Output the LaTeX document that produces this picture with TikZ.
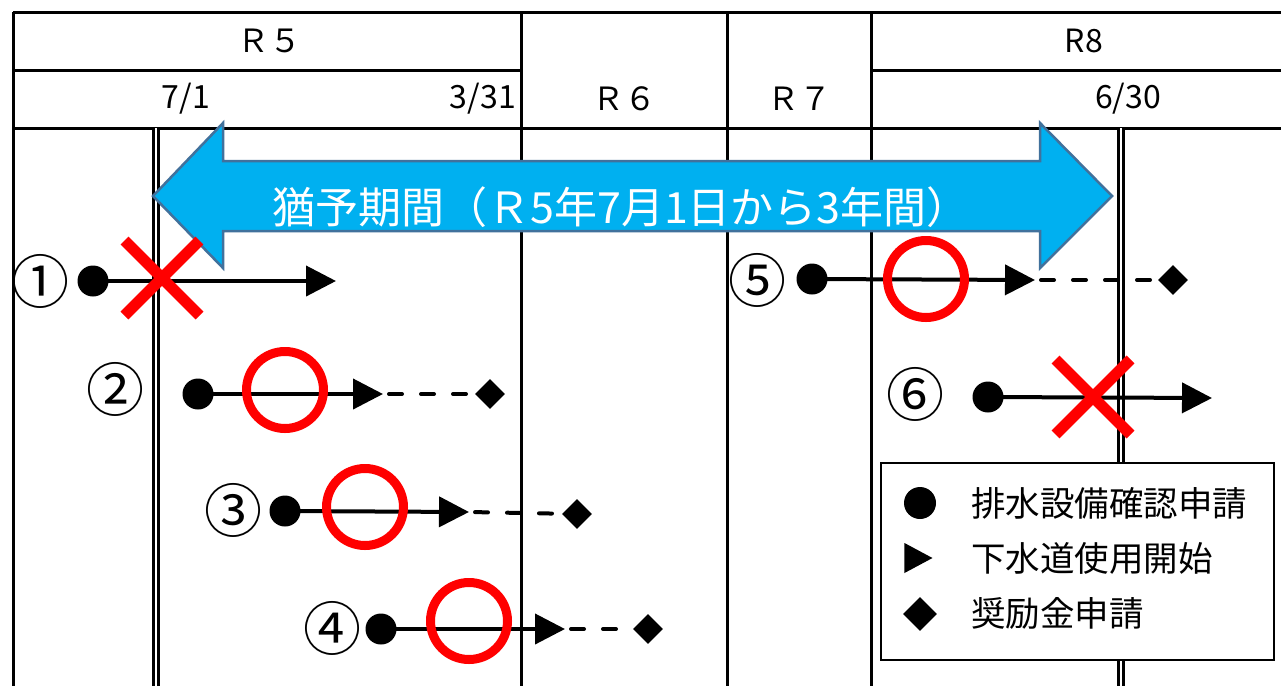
\documentclass[tikz,border=0pt]{standalone}
\usepackage{fontspec}
\setmainfont{Noto Sans CJK JP}
\usetikzlibrary{arrows.meta,shapes.geometric,shapes.misc}
\definecolor{arrowfill}{HTML}{00B0F0}
\definecolor{arrowline}{HTML}{41719C}
\begin{document}
\begin{tikzpicture}[x=1pt,y=-1pt,
  tbl/.style={line width=3pt},
  dbl/.style={line width=2.3pt, double distance=2.6pt},
  hd/.style={font=\fontsize{32}{34}\selectfont, inner sep=0pt},
  num/.style={font=\fontsize{58}{60}\selectfont, inner sep=0pt},
  dotn/.style={circle, fill=black, minimum size=31pt, inner sep=0pt},
  dian/.style={diamond, fill=black, minimum size=30pt, inner sep=0pt},
  tline/.style={line width=4pt, -{Triangle[length=30pt,width=30pt]}},
  dline/.style={line width=4pt, dash pattern=on 13pt off 19pt, line cap=round, shorten <=6pt},
  okmark/.style={circle, draw=red, line width=9pt, minimum size=77pt, inner sep=0pt},
  ngmark/.style={cross out, draw=red, line width=11pt, minimum size=64pt, inner sep=0pt},
  leg/.style={font=\fontsize{34.5}{36}\selectfont, anchor=west, inner sep=0pt},
]
\useasboundingbox (0,0) rectangle (1281,686);
\fill[white] (0,0) rectangle (1281,686);
% table
\draw[tbl] (13,12) -- (1281,12);
\draw[tbl] (13,70) -- (521,70);
\draw[tbl] (871,70) -- (1281,70);
\draw[tbl] (13,128) -- (1281,128);
\draw[tbl] (13,12) -- (13,686);
\draw[tbl] (521,12) -- (521,686);
\draw[tbl] (727,12) -- (727,686);
\draw[tbl] (871,12) -- (871,686);
\draw[dbl] (156,128) -- (156,686);
\draw[dbl] (1121,128) -- (1121,686);
% header texts
\node[hd] (hR5) at (269,41) {Ｒ５};
\node[hd] (h71) at (186,99) {7/1};
\node[hd, anchor=east] (h331) at (516,99) {3/31};
\node[hd] (hR6) at (624,99) {Ｒ６};
\node[hd] (hR7) at (799,99) {Ｒ７};
\node[hd] (hR8) at (1084,41) {R8};
\node[hd] (h630) at (1128,99) {6/30};
% grace period arrow
\draw[fill=arrowfill, draw=arrowline, line width=2.5pt, line join=miter]
  (153,196) -- (223,123) -- (223,161) -- (1040,161) -- (1040,123) -- (1112,196)
  -- (1040,268) -- (1040,231) -- (223,231) -- (223,268) -- cycle;
\node[text=white, font=\fontsize{43}{45}\selectfont, inner sep=0pt] (gp) at (621,207) {猶予期間（Ｒ5年7月1日から3年間）};
% case 1
\node[num] (n1) at (41,281) {①};
\node[dotn] (d1) at (93,281) {};
\coordinate (t1) at (336,281);
\draw[tline] (d1.center) -- (t1);
\node[ngmark] (x1) at (162,278) {};
% case 2
\node[num] (n2) at (115,389) {②};
\node[dotn] (d2) at (198,394) {};
\coordinate (t2) at (383,394);
\node[dian] (g2) at (490,394) {};
\draw[tline] (d2.center) -- (t2);
\draw[dline] (t2) -- (g2);
\node[okmark] (o2) at (285,390) {};
% case 3
\node[num] (n3) at (233,510) {③};
\node[dotn] (d3) at (285,511) {};
\coordinate (t3) at (469,512);
\node[dian] (g3) at (577,514) {};
\draw[tline] (d3.center) -- (t3);
\draw[dline] (t3) -- (g3);
\node[okmark] (o3) at (365,507) {};
% case 4
\node[num] (n4) at (332,628) {④};
\node[dotn] (d4) at (381,629) {};
\coordinate (t4) at (565,629);
\node[dian] (g4) at (648,629) {};
\draw[tline] (d4.center) -- (t4);
\draw[dline] (t4) -- (g4);
\node[okmark] (o4) at (469,621) {};
% case 5
\node[num] (n5) at (757,280) {⑤};
\node[dotn] (d5) at (812,279) {};
\coordinate (t5) at (1035,280);
\node[dian] (g5) at (1173,280) {};
\draw[tline] (d5.center) -- (t5);
\draw[dline] (t5) -- (g5);
\node[okmark] (o5) at (926,279) {};
% case 6
\node[num] (n6) at (915,394) {⑥};
\node[dotn] (d6) at (988,397) {};
\coordinate (t6) at (1212,398);
\draw[tline] (d6.center) -- (t6);
\node[ngmark] (x6) at (1093,397) {};
% legend
\node[draw, line width=2pt, fill=white, minimum width=393pt, minimum height=197pt, anchor=north west, inner sep=0pt] (lg) at (880,462) {};
\node[dotn, minimum size=32pt] (ls1) at (920,503) {};
\node[isosceles triangle, isosceles triangle stretches, fill=black, minimum height=28pt, minimum width=30pt, inner sep=0pt, anchor=apex] (ls2) at (933,558) {};
\node[dian, minimum size=34pt] (ls3) at (920,614) {};
\node[leg] (lt1) at (971,503) {排水設備確認申請};
\node[leg] (lt2) at (971,558) {下水道使用開始};
\node[leg] (lt3) at (971,613) {奨励金申請};
\end{tikzpicture}
\end{document}
